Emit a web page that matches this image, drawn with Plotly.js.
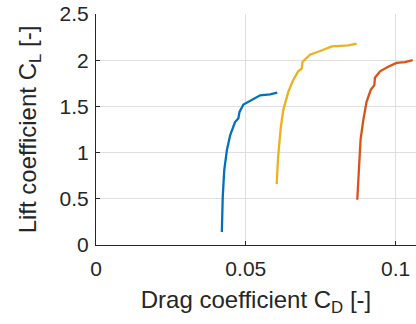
<!DOCTYPE html>
<html><head><meta charset="utf-8">
<script src="https://cdn.plot.ly/plotly-3.0.1.min.js"></script>
<style>body{margin:0;background:#fff}#c{width:416px;height:324px}</style>
</head><body><div id="c"></div>
<script>
const blueCD = [0.0420,0.0423,0.0428,0.0437,0.0448,0.0464,0.0475,0.0479,0.0492,0.0514,0.0548,0.0581,0.0605];
const blueCL = [0.14,0.52,0.81,1.03,1.19,1.33,1.37,1.44,1.52,1.56,1.62,1.63,1.65];
const yellowCD = [0.0603,0.0608,0.0617,0.0625,0.0642,0.0659,0.0675,0.0687,0.0689,0.0714,0.0748,0.0787,0.0842,0.0870];
const yellowCL = [0.66,0.96,1.28,1.46,1.66,1.79,1.88,1.91,1.98,2.06,2.10,2.15,2.16,2.18];
const redCD = [0.0872,0.0877,0.0883,0.0892,0.0903,0.0917,0.0929,0.0931,0.0948,0.0975,0.1003,0.1031,0.1057];
const redCL = [0.49,0.85,1.14,1.35,1.55,1.68,1.73,1.81,1.88,1.93,1.97,1.98,2.00];
const xTicks = [0,0.05,0.1];
const xTickText = ['0','0.05','0.1'];
const yTicks = [0,0.5,1,1.5,2,2.5];
const yTickText = ['0','0.5','1','1.5','2','2.5'];

const mk = (x,y,c)=>({x:x,y:y,type:'scatter',mode:'lines',line:{color:c,width:2.3},showlegend:false,hoverinfo:'skip'});
const data = [mk(blueCD,blueCL,'#0072BD'), mk(yellowCD,yellowCL,'#EDB120'), mk(redCD,redCL,'#D95319')];
const fam = 'Liberation Sans, Arial, sans-serif';
const fnt = {family:fam,size:21,color:'#262626'};
const tfnt = {family:fam,size:24,color:'#262626'};
const layout = {
  width:416,height:324,
  margin:{l:96,r:0,t:14,b:79,pad:0},
  paper_bgcolor:'#fff',plot_bgcolor:'#fff',
  font:fnt,
  xaxis:{range:[0,0.1068],tickvals:xTicks,ticktext:xTickText,showgrid:true,gridcolor:'#dfdfdf',gridwidth:1,
    zeroline:false,showline:true,linecolor:'#262626',linewidth:1,ticks:'inside',ticklen:4,tickcolor:'#262626',
    tickfont:fnt,ticklabelstandoff:5,title:{text:'Drag coefficient C<sub>D</sub> [-]',font:tfnt,standoff:11},automargin:false},
  yaxis:{range:[0,2.5],tickvals:yTicks,ticktext:yTickText,showgrid:true,gridcolor:'#dfdfdf',gridwidth:1,
    zeroline:false,showline:true,linecolor:'#262626',linewidth:1,ticks:'inside',ticklen:4,tickcolor:'#262626',
    tickfont:fnt,ticklabelstandoff:2,title:{text:'Lift coefficient C<sub>L</sub> [-]',font:tfnt,standoff:16},automargin:false}
};
Plotly.newPlot('c',data,layout,{staticPlot:true,displayModeBar:false});
</script></body></html>
